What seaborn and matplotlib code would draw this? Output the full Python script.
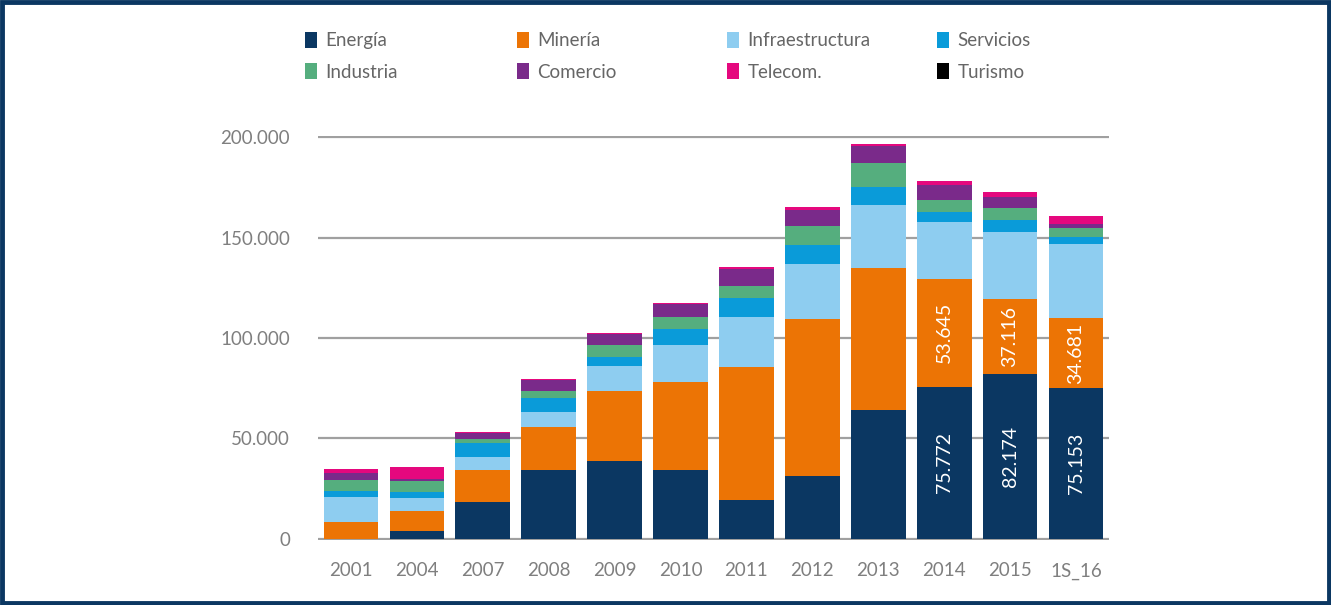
import numpy as np
import pandas as pd
import matplotlib
matplotlib.use("Agg")
import matplotlib.pyplot as plt
import seaborn as sns
from matplotlib.patches import Patch, Rectangle

sns.set_theme(style="white")
plt.rcParams['font.family'] = ['Lato', 'DejaVu Sans']

# data
years = ["2001", "2004", "2007", "2008", "2009", "2010", "2011", "2012", "2013", "2014", "2015", "1S_16"]
energia = [0, 4000, 18400, 34300, 38800, 34300, 19400, 31300, 64200, 75772, 82174, 75153]
mineria = [8500, 10000, 16000, 21400, 34800, 43800, 66200, 78100, 70600, 53645, 37116, 34681]
infraestructura = [12500, 6500, 6500, 7500, 12400, 18400, 24900, 27400, 31300, 28300, 33400, 37000]
servicios = [3000, 3000, 7000, 7000, 4500, 8000, 9500, 9500, 9000, 5000, 6000, 3500]
industria = [5500, 5500, 2000, 3500, 6000, 6000, 6000, 9500, 12000, 6000, 6000, 4500]
comercio = [3500, 1000, 3000, 5500, 5500, 6500, 8500, 8000, 8500, 7400, 5500, 2000]
telecom = [2000, 6000, 500, 500, 500, 500, 1000, 1500, 1000, 2000, 2500, 4000]
turismo = [0, 0, 0, 0, 0, 0, 0, 0, 0, 0, 0, 0]

series = ["Energía", "Minería", "Infraestructura", "Servicios",
          "Industria", "Comercio", "Telecom.", "Turismo"]
values = [energia, mineria, infraestructura, servicios,
          industria, comercio, telecom, turismo]
colors = ["#0b3762", "#ec7405", "#8ecdf0", "#0a9bd9",
          "#55ae7e", "#7a2a8a", "#e5087e", "#000000"]

df = pd.DataFrame(dict(zip(series, values)), index=years)

fig = plt.figure(figsize=(13.31, 6.05), dpi=100)
ax = fig.add_axes([318 / 1331, 1 - 540.2 / 605, (1109 - 318) / 1331, (540.2 - 135.8) / 605])

bottom = np.zeros(len(years))
for name, col in zip(series, colors):
    sns.barplot(x=df.index, y=df[name].values, bottom=bottom, color=col,
                width=0.83, saturation=1, ax=ax, linewidth=0)
    bottom = bottom + df[name].values

# white value labels on last three bars
def fmt(v):
    return f"{int(v):,}".replace(",", ".")

for k in (0, 1):
    cont = ax.containers[k]
    labels = [fmt(v) if i >= 9 else "" for i, v in enumerate(values[k])]
    ax.bar_label(cont, labels=labels, label_type="center", rotation=90,
                 color="white", fontsize=14)

ax.set_ylim(-600, 200600)
ax.set_xlim(-0.5, len(years) - 0.5)
ax.set_yticks([0, 50000, 100000, 150000, 200000])
ax.set_yticklabels([fmt(v) for v in [0, 50000, 100000, 150000, 200000]])
ax.yaxis.grid(True, color="#a0a0a0", linewidth=1.6)
ax.set_axisbelow(True)
for s in ax.spines.values():
    s.set_visible(False)
ax.tick_params(axis="y", length=0, pad=20, labelsize=13.5, labelcolor="#7f7f7f")
ax.tick_params(axis="x", length=0, pad=16, labelsize=13.5, labelcolor="#7f7f7f")
ax.set_xlabel("")
ax.set_ylabel("")

# legend in four columns
col_x = [305, 517, 727, 937]
for j in range(4):
    handles = [Patch(facecolor=colors[j], edgecolor="none", label=series[j]),
               Patch(facecolor=colors[j + 4], edgecolor="none", label=series[j + 4])]
    fig.legend(handles=handles, loc="upper left",
               bbox_to_anchor=(col_x[j] / 1331, 1 - 32 / 605),
               frameon=False, fontsize=13.5, handlelength=0.65, handleheight=0.9,
               handletextpad=0.45, labelspacing=0.75, borderpad=0, borderaxespad=0,
               labelcolor="#666666")

fig.patches.append(Rectangle((0.0015, 0.003), 0.997, 0.994, transform=fig.transFigure,
                             fill=False, edgecolor="#0b3762", linewidth=3.5))

fig.savefig("out.png", dpi=100, facecolor="white")
